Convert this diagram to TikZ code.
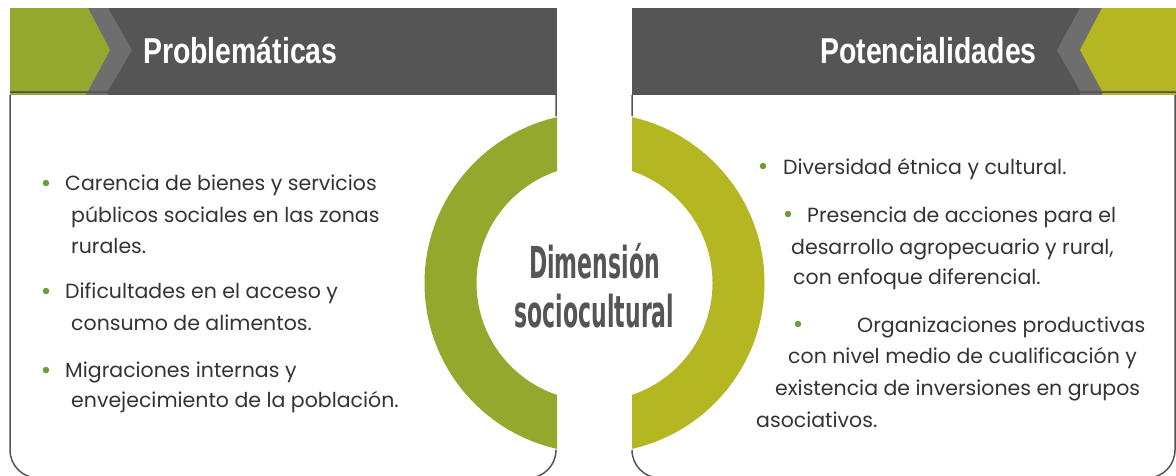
\documentclass[tikz,border=0pt]{standalone}
\usepackage{fontspec}
\setmainfont{Poppins}
\newfontfamily\headfont{Liberation Sans}[FakeStretch=0.79]
\newfontfamily\ringfont{DejaVu Sans}[FakeStretch=0.5]
\usetikzlibrary{positioning}

\definecolor{probgreen}{HTML}{93A82D}
\definecolor{potgreen}{HTML}{B5B722}
\definecolor{headgrey}{HTML}{555555}
\definecolor{chevgrey}{HTML}{6E6E6E}
\definecolor{dotgreen}{HTML}{6E9A38}
\definecolor{textgrey}{HTML}{333333}

\tikzset{
  item/.style={anchor=base west, inner sep=0pt, text=textgrey,
    font=\fontsize{20.5}{31}\selectfont},
  dot/.style={circle, fill=dotgreen, inner sep=0pt, minimum size=6.5pt},
  title/.style={inner sep=0pt, text=white,
    font=\headfont\bfseries\fontsize{36}{36}\selectfont},
  ringlabel/.style={anchor=base, inner sep=0pt, text=headgrey,
    font=\ringfont\bfseries\fontsize{44}{49}\selectfont},
  panel/.style={draw=headgrey, line width=1.5pt, rounded corners=28pt}
}

\begin{document}
\begin{tikzpicture}[x=1pt, y=-1pt]
\useasboundingbox (0,0) rectangle (1176,475);
%
% panels
\draw[panel] (10,95) -- (10,478) -- (556,478) -- (556,95);
\draw[panel] (632,95) -- (632,478) -- (1175,478) -- (1175,95);
%
% headers
\fill[headgrey] (10,8) rectangle (557,95);
\fill[chevgrey] (10,8) -- (108,8) -- (132,50) -- (108,91) -- (10,91) -- cycle;
\fill[probgreen] (10,8) -- (88,8) -- (110,50) -- (88,91) -- (10,91) -- cycle;
\fill[probgreen] (10,93) rectangle (86,95);
\fill[chevgrey] (86,93) rectangle (108,95);
\fill[headgrey] (632,8) rectangle (1176,95);
\fill[chevgrey] (1176,8) -- (1080,8) -- (1057,50) -- (1080,91) -- (1176,91) -- cycle;
\fill[potgreen] (1176,8) -- (1102,8) -- (1080,50) -- (1102,91) -- (1176,91) -- cycle;
\fill[chevgrey] (1080,93) rectangle (1102,95);
\fill[potgreen] (1102,93) rectangle (1176,95);
\node[title, anchor=base west] (prob) at (143,63) {Problemáticas};
\node[title, anchor=base east] (pot) at (1037,63) {Potencialidades};
%
% ring
\coordinate (hub) at (594.5,283);
\fill[white] (hub) circle (171);
\begin{scope}
  \clip (0,0) rectangle (557,475);
  \fill[probgreen, even odd rule] (hub) circle (170) (hub) circle (118);
\end{scope}
\begin{scope}
  \clip (632,0) rectangle (1176,475);
  \fill[potgreen, even odd rule] (hub) circle (170) (hub) circle (118);
\end{scope}
\node[ringlabel] (dim1) at (594.5,278) {Dimensión};
\node[ringlabel] (dim2) at (594.5,327) {sociocultural};
%
% problemáticas
\node[dot] (d1) at (46,183) {};
\node[item] (c1) at (65,190) {Carencia de bienes y servicios};
\node[item] (c2) at (71,222) {públicos sociales en las zonas};
\node[item] (c3) at (71,253) {rurales.};
\node[dot] (d2) at (46,291) {};
\node[item] (f1) at (65,298) {Dificultades en el acceso y};
\node[item] (f2) at (71,330) {consumo de alimentos.};
\node[dot] (d3) at (46,370) {};
\node[item] (m1) at (65,377) {Migraciones internas y};
\node[item] (m2) at (71,407) {envejecimiento de la población.};
%
% potencialidades
\node[dot] (d4) at (763,166) {};
\node[item] (e1) at (783,174) {Diversidad étnica y cultural.};
\node[dot] (d5) at (788,214) {};
\node[item] (a1) at (807,222) {Presencia de acciones para el};
\node[item] (a2) at (791,254) {desarrollo agropecuario y rural,};
\node[item] (a3) at (793,284) {con enfoque diferencial.};
\node[dot] (d6) at (798,324) {};
\node[item] (o1) at (857,332) {Organizaciones productivas};
\node[item] (o2) at (788,363) {con nivel medio de cualificación y};
\node[item] (o3) at (775,395) {existencia de inversiones en grupos};
\node[item] (o4) at (756,427) {asociativos.};
\end{tikzpicture}
\end{document}
